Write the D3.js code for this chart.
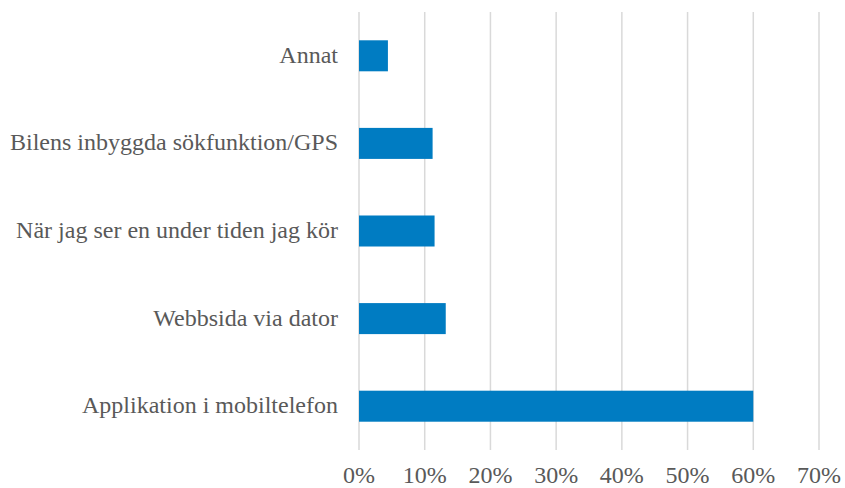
<!DOCTYPE html>
<html>
<head>
<meta charset="utf-8">
<script src="https://cdn.jsdelivr.net/npm/d3@7"></script>
<style>
  body { margin: 0; background: #fff; }
  text { font-family: "Liberation Serif", "Times New Roman", serif; fill: #595959; }
</style>
</head>
<body>
<svg width="845" height="488"></svg>
<script>
// Data
const categories = ['Annat', 'Bilens inbyggda sökfunktion/GPS', 'När jag ser en under tiden jag kör', 'Webbsida via dator', 'Applikation i mobiltelefon']
const values = [0.044, 0.112, 0.115, 0.132, 0.60]
const ticks = [0, 0.1, 0.2, 0.3, 0.4, 0.5, 0.6, 0.7]

// Set up
const svg = d3.select('svg')
const margin = { top: 12, right: 26, bottom: 38, left: 359 }
const width = 845 - margin.left - margin.right
const height = 488 - margin.top - margin.bottom

const g = svg.append('g').attr('transform', `translate(${margin.left},${margin.top})`)

const x = d3.scaleLinear().domain([0, 0.7]).range([0, width])
const y = d3.scaleBand().domain(categories).range([0, height]).paddingInner(0.646).paddingOuter(0.323)

// gridlines
g.selectAll('line.grid')
    .data(ticks)
    .join('line')
    .attr('class', 'grid')
    .attr('x1', d => x(d))
    .attr('x2', d => x(d))
    .attr('y1', 0)
    .attr('y2', height)
    .style('stroke', '#d9d9d9')
    .style('stroke-width', 1.5)

// bars
g.selectAll('rect')
    .data(values)
    .join('rect')
    .attr('x', x(0))
    .attr('y', (d, i) => y(categories[i]))
    .attr('width', d => x(d) - x(0))
    .attr('height', y.bandwidth())
    .style('fill', '#007cc2')

// category labels
g.selectAll('text.cat')
    .data(categories)
    .join('text')
    .attr('class', 'cat')
    .attr('x', -21)
    .attr('y', d => y(d) + y.bandwidth() / 2 + 7)
    .attr('text-anchor', 'end')
    .style('font-size', '24px')
    .text(d => d)

// tick labels
g.selectAll('text.tick')
    .data(ticks)
    .join('text')
    .attr('class', 'tick')
    .attr('x', d => x(d))
    .attr('y', height + 33)
    .attr('text-anchor', 'middle')
    .style('font-size', '24px')
    .text(d => d3.format('.0%')(d))
</script>
</body>
</html>
